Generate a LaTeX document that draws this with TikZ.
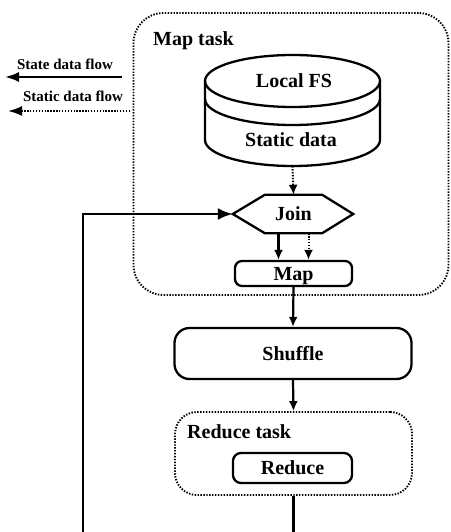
\documentclass[tikz,border=0pt]{standalone}
\usepackage{fontspec}
\setmainfont{Liberation Serif}
\usetikzlibrary{arrows.meta}
\begin{document}
\begin{tikzpicture}[x=1pt,y=-1pt,
  every node/.style={font=\bfseries\fontsize{20}{24}\selectfont, inner sep=0pt},
  legendtext/.style={font=\bfseries\fontsize{15}{18}\selectfont, anchor=base},
  outline/.style={line width=2.3pt},
  solidbox/.style={draw, outline, rounded corners=#1, text height=13.5pt, text depth=0pt},
  dotline/.style={line width=1.9pt, dash pattern=on 1.4pt off 1.5pt},
  taskbox/.style={draw, dotline, rounded corners=#1},
  flow/.style={line width=2.2pt, -{Latex[length=10pt,width=9pt]}},
  staticflow/.style={flow, line width=2pt, dash pattern=on 1.4pt off 1.5pt},
  legendflow/.style={line width=2.2pt, -{Latex[length=14pt,width=10pt]}},
  loopflow/.style={line width=2.6pt, -{Latex[length=15pt,width=12pt]}}
]
\clip (0,0) rectangle (450,532);

% legend
\node[legendtext] (lstate) at (65,70) {State data flow};
\coordinate (lstateA) at (122,77);
\coordinate (lstateB) at (5,77);
\draw[legendflow] (lstateA) -- (lstateB);
\node[legendtext] (lstatic) at (73,102) {Static data flow};
\coordinate (lstaticA) at (130,111);
\coordinate (lstaticB) at (8,111);
\draw[legendflow, line width=2pt, dash pattern=on 1.4pt off 1.5pt] (lstaticA) -- (lstaticB);

% map task container
\node[taskbox=30pt, minimum width=315pt, minimum height=282pt] (maptask) at (291,154) {};
\node[anchor=base west] (maptasklabel) at (153,46) {Map task};

% local file system (cylinder)
\node[minimum width=175pt, minimum height=111pt] (fs) at (292.5,110.5) {};
\draw[outline] (205,81) -- (205,140)
  arc[start angle=180, end angle=360, x radius=87.5pt, y radius=26pt] -- (380,81);
\draw[outline] (292.5,81) ellipse[x radius=87.5pt, y radius=26pt];
\draw[outline] (205,99) arc[start angle=180, end angle=360, x radius=87.5pt, y radius=26pt];
\node[anchor=base] (fstop) at (294,88) {Local FS};
\node[anchor=base] (fsdata) at (291,146) {Static data};

% join (hexagon)
\node[minimum width=57pt, minimum height=38pt, text height=13.5pt, text depth=0pt] (join) at (293.5,214) {Join};
\coordinate (joinL) at ([xshift=-32pt]join.west);
\coordinate (joinR) at ([xshift=31pt]join.east);
\draw[outline] (join.north west) -- (join.north east) -- (joinR)
  -- (join.south east) -- (join.south west) -- (joinL) -- cycle;

% map, shuffle, reduce
\node[solidbox=7pt, minimum width=117pt, minimum height=25pt] (map) at (293.5,273.5) {Map};
\node[solidbox=15pt, minimum width=237pt, minimum height=51pt] (shuffle) at (293,353.5) {Shuffle};
\node[taskbox=22pt, minimum width=237pt, minimum height=83pt] (reducetask) at (293.5,453.5) {};
\node[anchor=base west] (reducetasklabel) at (187,438) {Reduce task};
\node[solidbox=8pt, minimum width=119pt, minimum height=30pt] (reduce) at (292.5,468) {Reduce};

% connectors
\draw[staticflow] (fs.south) -- (join.north);
\draw[flow] ([xshift=-15pt]join.south) -- ([xshift=-15pt]map.north);
\draw[staticflow] ([xshift=15pt]join.south) -- ([xshift=15pt]map.north);
\draw[flow] (map.south) -- (shuffle.north);
\draw[flow] (shuffle.south) -- (reducetask.north);

% feedback loop from reduce back to join
\coordinate (loopA) at (293.5,548);
\coordinate (loopB) at (83,548);
\draw[loopflow] (reducetask.south) -- (loopA) -- (loopB) -- (loopB |- joinL) -- (joinL);
\end{tikzpicture}
\end{document}
